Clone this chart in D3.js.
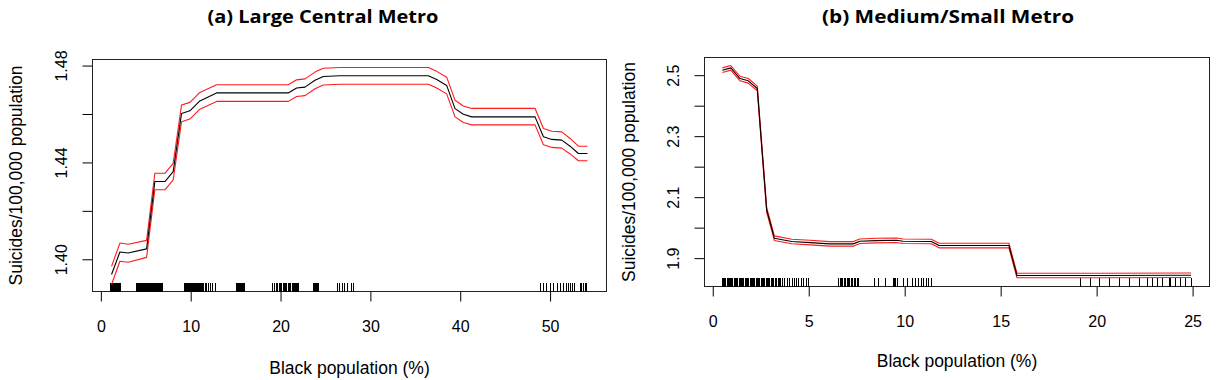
<!DOCTYPE html>
<html>
<head>
<meta charset="utf-8">
<script src="https://cdn.jsdelivr.net/npm/d3@7"></script>
<style>
  body { margin: 0; background: #fff; }
  svg { display: block; }
  .tick text, .lab { font-family: "Liberation Sans", Arial, sans-serif; fill: #000; }
  .title { font-family: "Open Sans", sans-serif; font-weight: 700; fill: #000; }
</style>
</head>
<body>
<script>
// ---- panel (a) Large Central Metro ----
var aX = [1.19, 2.12, 3.04, 5.09, 6.01, 7.13, 8.05, 8.98, 9.91, 11.02, 12.88, 20.86, 21.79, 22.72, 23.83,
  24.76, 26.61, 36.45, 37.38, 38.49, 39.42, 40.35, 41.28, 48.33, 49.26, 50.19, 51.30, 52.23, 53.15, 54.16];
var aFit = [1.3937, 1.4030, 1.4026, 1.4043, 1.4321, 1.4321, 1.4362, 1.4602, 1.4613, 1.4654, 1.4687, 1.4687, 1.4707, 1.4711, 1.4739,
  1.4755, 1.4758, 1.4758, 1.4742, 1.4718, 1.4622, 1.4599, 1.4588, 1.4588, 1.4506, 1.4495, 1.4492, 1.4467, 1.4437, 1.4437];
var aUpper = [1.3971, 1.4067, 1.4062, 1.4078, 1.4355, 1.4355, 1.4396, 1.4637, 1.4648, 1.4689, 1.4721, 1.4721, 1.4741, 1.4745, 1.4773,
  1.4789, 1.4792, 1.4792, 1.4776, 1.4752, 1.4657, 1.4633, 1.4623, 1.4623, 1.4540, 1.4529, 1.4526, 1.4499, 1.4467, 1.4467];
var aLower = [1.3896, 1.3992, 1.3988, 1.4008, 1.4287, 1.4287, 1.4328, 1.4568, 1.4579, 1.4620, 1.4652, 1.4652, 1.4672, 1.4676, 1.4704,
  1.4720, 1.4723, 1.4723, 1.4707, 1.4683, 1.4588, 1.4565, 1.4555, 1.4555, 1.4473, 1.4462, 1.4459, 1.4435, 1.4407, 1.4407];
var aRug = [1.05, 1.12, 1.2, 1.28, 1.35, 1.42, 1.5, 1.57, 1.63, 1.7, 1.78, 1.85, 1.92, 2.0, 2.08, 2.15, 2.24,
  3.95, 4.05, 4.12, 4.2, 4.3, 4.38, 4.45, 4.55, 4.62, 4.7, 4.8, 4.88, 4.95, 5.05, 5.12, 5.2, 5.3, 5.38, 5.45,
  5.55, 5.62, 5.7, 5.8, 5.88, 5.95, 6.05, 6.12, 6.2, 6.3, 6.38, 6.45, 6.55, 6.62, 6.7, 6.85,
  9.3, 9.4, 9.48, 9.55, 9.65, 9.72, 9.8, 9.9, 9.98, 10.05, 10.15, 10.22, 10.3, 10.4, 10.48, 10.55, 10.65,
  10.75, 10.85, 10.95, 11.05, 11.15, 11.3, 11.45, 11.6, 11.8, 12.0, 12.25, 12.45, 12.73,
  15.08, 15.15, 15.22, 15.3, 15.38, 15.45, 15.52, 15.6, 15.68, 15.75, 15.82, 15.9, 15.98,
  19.05, 19.3, 19.5, 19.7, 19.9, 20.05, 20.15, 20.3, 20.45, 20.55, 20.7, 20.85, 20.95, 21.05, 21.15, 21.3,
  21.4, 21.5, 21.6, 21.7, 21.8, 21.9, 22.05,
  23.7, 23.8, 23.9, 24.0, 24.1, 24.22,
  26.36, 26.6, 26.9, 27.15, 27.45, 27.85, 28.1,
  48.89, 49.25, 49.63, 50.0, 50.37, 50.81, 51.19, 51.48, 51.86, 52.04, 52.23, 52.53, 52.67, 53.34, 53.53, 53.7, 53.9, 54.08];
var aXTicks = [0, 10, 20, 30, 40, 50];
var aYTicks = [1.40, 1.42, 1.44, 1.46, 1.48];
var aYLabels = ["1.40", "", "1.44", "", "1.48"];

// ---- panel (b) Medium/Small Metro ----
var bX = [0.50, 0.94, 1.42, 1.85, 2.32, 2.81, 3.21, 4.11, 5.06, 6.10, 7.32, 7.66, 8.53, 9.57, 9.92,
  11.39, 11.79, 15.43, 15.85, 20.15, 24.92];
var bFit = [2.5164, 2.5240, 2.4890, 2.4815, 2.4564, 2.0580, 1.9655, 1.9545, 1.9510, 1.9468, 1.9468, 1.9555, 1.9576, 1.9588, 1.9555,
  1.9545, 1.9413, 1.9413, 1.8430, 1.8430, 1.8440];
var bUpper = [2.5240, 2.5315, 2.4965, 2.4890, 2.4640, 2.0655, 1.9730, 1.9620, 1.9585, 1.9543, 1.9543, 1.9630, 1.9651, 1.9663, 1.9630,
  1.9620, 1.9488, 1.9488, 1.8505, 1.8505, 1.8515];
var bLower = [2.5090, 2.5165, 2.4815, 2.4740, 2.4490, 2.0505, 1.9580, 1.9470, 1.9435, 1.9393, 1.9393, 1.9480, 1.9501, 1.9513, 1.9480,
  1.9470, 1.9338, 1.9338, 1.8355, 1.8355, 1.8365];
var bRug = [0.5, 0.56, 0.62, 0.68, 0.75, 0.8, 0.86, 0.93, 0.99, 1.05, 1.12, 1.18, 1.24, 1.3, 1.37, 1.43, 1.5,
  1.56, 1.62, 1.69, 1.75, 1.82, 1.88, 1.95, 2.01, 2.08, 2.14, 2.2, 2.27, 2.33, 2.4, 2.46, 2.53, 2.59, 2.66,
  2.72, 2.79, 2.85, 2.92, 2.98, 3.05, 3.12, 3.19, 3.26, 3.33, 3.4, 3.47, 3.53,
  3.62, 3.75, 3.88, 4.02, 4.14, 4.27, 4.37, 4.49, 4.61, 4.75, 4.89, 5.01,
  6.57, 6.63, 6.7, 6.78, 6.85, 6.92, 7.0, 7.08, 7.15, 7.22, 7.3, 7.38, 7.45, 7.53, 7.61,
  8.44, 8.65, 9.0, 9.4, 9.47, 9.53, 9.6,
  9.95, 10.16, 10.39, 10.56, 10.73, 10.85, 10.99, 11.13, 11.25, 11.39,
  19.18, 19.67, 20.17, 20.66, 21.17, 21.69, 22.21, 22.65, 22.91, 23.17, 23.43, 23.77, 23.86, 24.12, 24.38, 24.64, 24.92];
var bXTicks = [0, 5, 10, 15, 20, 25];
var bYTicks = [1.9, 2.0, 2.1, 2.2, 2.3, 2.4, 2.5];
var bYLabels = ["1.9", "", "2.1", "", "2.3", "", "2.5"];

var svg = d3.select("body").append("svg")
  .attr("width", 1218)
  .attr("height", 380);

function drawPanel(p) {
  var x = d3.scaleLinear().domain(p.xDomain).range([p.left, p.right]);
  var y = d3.scaleLinear().domain(p.yDomain).range([p.bottom, p.top]);
  var g = svg.append("g");

  // x axis
  var xa = g.append("g")
    .attr("transform", "translate(0," + p.bottom + ")")
    .call(d3.axisBottom(x).tickValues(p.xTicks).tickSize(10).tickSizeOuter(0));
  xa.select(".domain").remove();
  xa.selectAll(".tick line").attr("stroke", "#000");
  xa.selectAll(".tick text")
    .attr("y", p.xLabY).attr("dy", 0)
    .style("font-size", "16px");

  // y axis, labels parallel to the axis like R
  var ya = g.append("g")
    .attr("transform", "translate(" + p.left + ",0)")
    .call(d3.axisLeft(y).tickValues(p.yTicks).tickSize(10).tickSizeOuter(0)
      .tickFormat(function (d, i) { return p.yLabels[i]; }));
  ya.select(".domain").remove();
  ya.selectAll(".tick line").attr("stroke", "#000");
  ya.selectAll(".tick text")
    .attr("x", 0).attr("dy", 0)
    .attr("transform", "translate(" + p.yLabX + ",0) rotate(-90)")
    .style("text-anchor", "middle")
    .style("font-size", "16px");

  // box
  g.append("rect")
    .attr("x", p.left).attr("y", p.top)
    .attr("width", p.right - p.left).attr("height", p.bottom - p.top)
    .attr("fill", "none").attr("stroke", "#222").attr("stroke-width", 1);

  // rug
  g.selectAll(".rug").data(p.rug).enter().append("line")
    .attr("x1", function (d) { return x(d); })
    .attr("x2", function (d) { return x(d); })
    .attr("y1", p.bottom)
    .attr("y2", p.bottom - 8.5)
    .attr("stroke", "#000")
    .attr("stroke-width", 1)
    .attr("shape-rendering", "crispEdges");

  // lines
  function path(vals) {
    return d3.line()
      .x(function (d, i) { return x(p.xs[i]); })
      .y(function (d) { return y(d); })(vals);
  }
  [[p.upper, "#ff1a1a"], [p.lower, "#ff1a1a"], [p.fit, "#000"]].forEach(function (s) {
    g.append("path")
      .attr("d", path(s[0]))
      .attr("fill", "none")
      .attr("stroke", s[1])
      .attr("stroke-width", 1.1)
      .attr("stroke-linejoin", "round");
  });

  // texts
  g.append("text").attr("class", "title")
    .attr("x", p.titleX).attr("y", 23)
    .attr("text-anchor", "middle")
    .attr("textLength", p.titleW).attr("lengthAdjust", "spacingAndGlyphs")
    .style("font-size", "17.5px")
    .text(p.title);
  g.append("text").attr("class", "lab")
    .attr("x", (p.left + p.right) / 2).attr("y", p.xTitleY)
    .attr("text-anchor", "middle")
    .style("font-size", "17.5px")
    .text("Black population (%)");
  g.append("text").attr("class", "lab")
    .attr("transform", "translate(" + p.yTitleX + "," + (p.top + p.bottom) / 2 + ") rotate(-90)")
    .attr("text-anchor", "middle")
    .style("font-size", "17.5px")
    .text("Suicides/100,000 population");
}

drawPanel({
  xs: aX, fit: aFit, upper: aUpper, lower: aLower, rug: aRug,
  xTicks: aXTicks, yTicks: aYTicks, yLabels: aYLabels,
  xDomain: [-0.93, 56.28], yDomain: [1.3867, 1.4825],
  left: 92.5, right: 606.5, top: 59.5, bottom: 291.5,
  xLabY: 40, yLabX: -26, xTitleY: 374, yTitleX: 22,
  title: "(a) Large Central Metro", titleX: 323, titleW: 231
});

drawPanel({
  xs: bX, fit: bFit, upper: bUpper, lower: bLower, rug: bRug,
  xTicks: bXTicks, yTicks: bYTicks, yLabels: bYLabels,
  xDomain: [-0.43, 25.88], yDomain: [1.807, 2.558],
  left: 704.5, right: 1209.5, top: 57.5, bottom: 286.5,
  xLabY: 40, yLabX: -26, xTitleY: 367, yTitleX: 635,
  title: "(b) Medium/Small Metro", titleX: 948, titleW: 252
});
</script>
</body>
</html>
